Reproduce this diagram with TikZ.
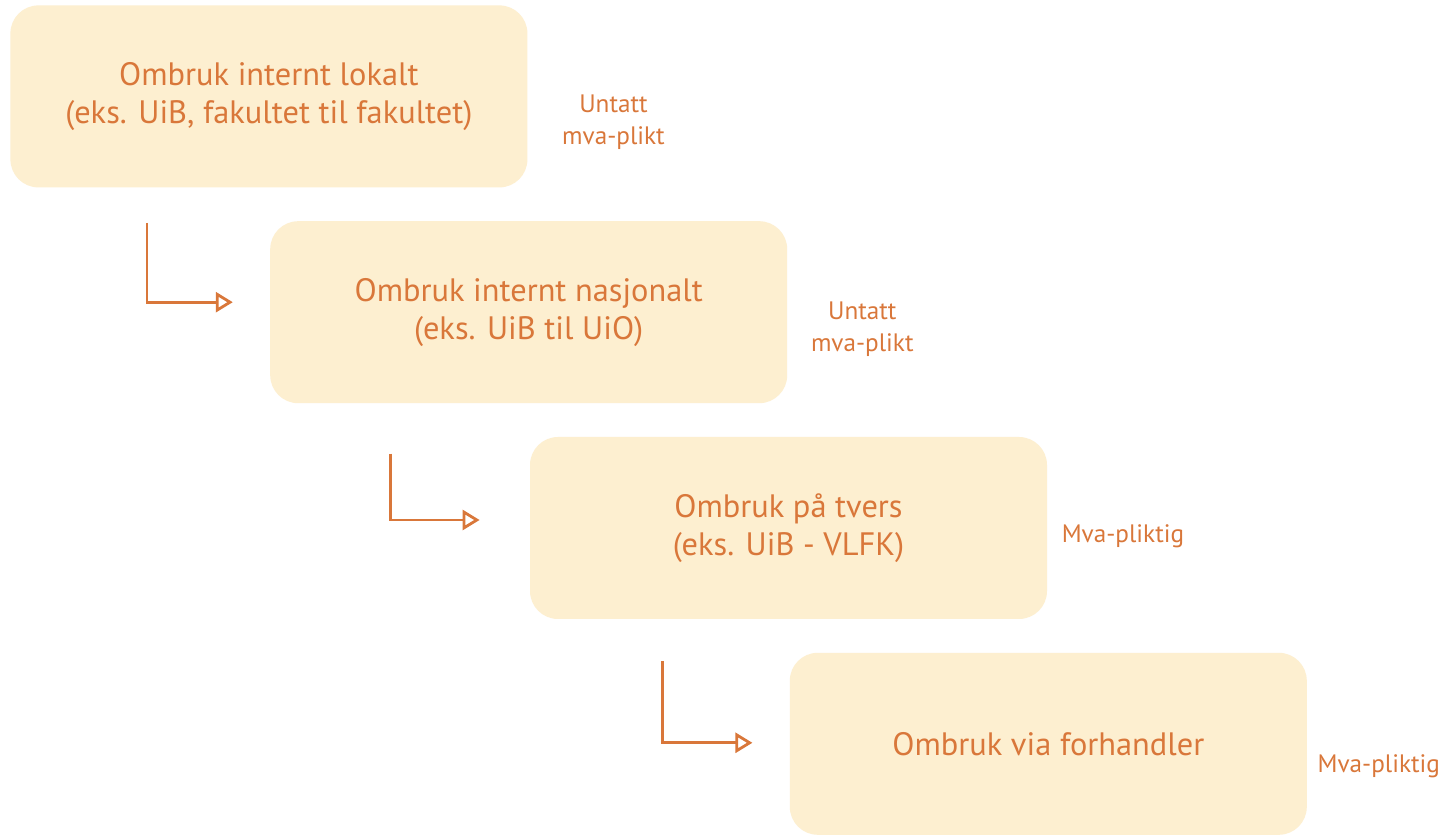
\documentclass[tikz,border=0pt]{standalone}
\usepackage{fontspec}
\setmainfont{PT Sans}
\usetikzlibrary{arrows.meta, positioning}
\definecolor{boxfill}{HTML}{FDEFD0}
\definecolor{ombrukorange}{HTML}{D9773A}

\begin{document}
\begin{tikzpicture}[
    node distance=16.5pt,
    stage/.style={rectangle, fill=boxfill, text=ombrukorange, minimum width=258.5pt, minimum height=91pt, rounded corners=14pt, align=center, font=\fontsize{16.2}{19}\selectfont},
    vat/.style={text=ombrukorange, align=center, inner sep=0pt, font=\fontsize{12.6}{16}\selectfont},
    arrow/.style={-{Triangle[open, length=8.5pt, width=10pt]}, line width=1.4pt, draw=ombrukorange}
]
\useasboundingbox[fill=white] (0,0) rectangle (723.5pt,-419.5pt);

\node[stage, anchor=north west] (lokalt) at (5pt,-2.5pt) {Ombruk internt lokalt\\(eks. UiB, fakultet til fakultet)};
\node[stage, below right=16.5pt and -129pt of lokalt] (nasjonalt) {Ombruk internt nasjonalt\\(eks. UiB til UiO)};
\node[stage, below right=16.5pt and -129pt of nasjonalt] (tvers) {Ombruk på tvers\\(eks. UiB - VLFK)};
\node[stage, below right=16.5pt and -129pt of tvers] (forhandler) {Ombruk via forhandler};

\node[vat, right=17pt of lokalt.east, yshift=-13pt] (vatlokalt) {Untatt\\mva-plikt};
\node[vat, right=11.5pt of nasjonalt.east, yshift=-8.5pt] (vatnasjonalt) {Untatt\\mva-plikt};
\node[vat, right=7pt of tvers.east, yshift=-4pt] (vattvers) {Mva-pliktig};
\node[vat, right=5pt of forhandler.east, yshift=-11pt] (vatforhandler) {Mva-pliktig};

\draw[arrow] ([xshift=68.5pt,yshift=-17.5pt]lokalt.south west) |- ([xshift=-18.5pt,yshift=5pt]nasjonalt.west);
\draw[arrow] ([xshift=60.5pt,yshift=-25pt]nasjonalt.south west) |- ([xshift=-25pt,yshift=4pt]tvers.west);
\draw[arrow] ([xshift=66.5pt,yshift=-21pt]tvers.south west) |- ([xshift=-18.5pt,yshift=0.5pt]forhandler.west);

\end{tikzpicture}
\end{document}
